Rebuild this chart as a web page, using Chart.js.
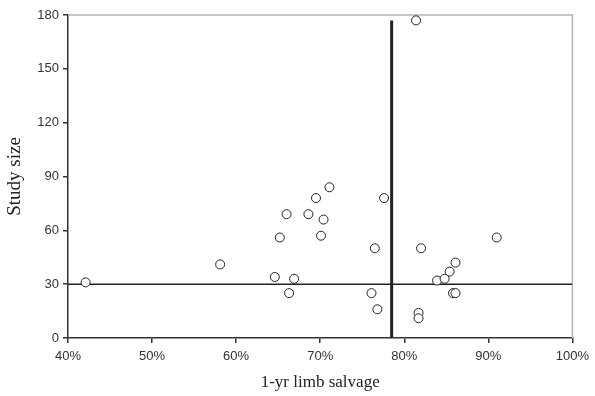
<!DOCTYPE html>
<html>
<head>
<meta charset="utf-8">
<script src="https://cdn.jsdelivr.net/npm/chart.js@4"></script>
<style>
    body { margin: 0; background: #fff; }
    #wrap { width: 595px; height: 396px; }
</style>
</head>
<body>
<div id="wrap"><canvas id="limbChart" width="595" height="396"></canvas></div>
<script>

/* ====================================
   DATA
==================================== */

// 1-yr limb salvage (%) per study
const salvage = [
    42.1, 58.1, 64.6, 65.2, 66.0, 66.3, 66.9, 68.6, 69.5,
    70.1, 70.4, 71.1, 76.1, 76.5, 76.8, 77.6, 81.4, 81.7,
    81.7, 82.0, 83.9, 84.8, 85.4, 86.1, 85.8, 86.1, 91.0
];

// study size for each point
const studySize = [
    31, 41, 34, 56, 69, 25, 33, 69, 78,
    57, 66, 84, 25, 50, 16, 78, 177, 14,
    11, 50, 32, 33, 37, 42, 25, 25, 56
];

// reference lines
const pooledSalvage = 78.5;
const pooledTop = 177;
const medianSize = 30;

const xTicks = [40, 50, 60, 70, 80, 90, 100];
const yTicks = [0, 30, 60, 90, 120, 150, 180];

/* ====================================
   PLOT FRAME (top / right in gray)
==================================== */

const frameLines = {

    id: "frameLines",

    beforeDatasetsDraw(chart) {

        const { ctx, chartArea: a } = chart;

        ctx.save();
        ctx.strokeStyle = "#b4b4b4";
        ctx.lineWidth = 1.5;
        ctx.beginPath();
        ctx.moveTo(a.left, a.top);
        ctx.lineTo(a.right, a.top);
        ctx.lineTo(a.right, a.bottom);
        ctx.stroke();
        ctx.restore();

    }

};

/* ====================================
   CHART
==================================== */

function createLimbChart() {

    const canvas =
        document.getElementById("limbChart");

    const points =
        salvage.map((x, i) => ({ x: x, y: studySize[i] }));

    new Chart(canvas, {

        type: "scatter",

        data: {

            datasets: [

                {
                    label: "Studies",
                    data: points,
                    pointRadius: 4.5,
                    pointBorderWidth: 1,
                    pointBorderColor: "#222",
                    pointBackgroundColor: "#fff",
                    order: 0
                },

                {
                    label: "Pooled salvage",
                    data: [
                        { x: pooledSalvage, y: 0 },
                        { x: pooledSalvage, y: pooledTop }
                    ],
                    showLine: true,
                    borderColor: "#222",
                    borderWidth: 3,
                    pointRadius: 0,
                    order: 1
                },

                {
                    label: "Median size",
                    data: [
                        { x: xTicks[0], y: medianSize },
                        { x: xTicks[xTicks.length - 1], y: medianSize }
                    ],
                    showLine: true,
                    borderColor: "#222",
                    borderWidth: 1.5,
                    pointRadius: 0,
                    order: 2
                }

            ]

        },

        options: {

            responsive: false,
            animation: false,

            layout: {
                padding: { left: 0, right: 22, top: 15, bottom: 0 }
            },

            plugins: {
                legend: { display: false },
                tooltip: { enabled: false }
            },

            scales: {

                x: {
                    type: "linear",
                    min: xTicks[0],
                    max: xTicks[xTicks.length - 1],
                    afterBuildTicks: s => {
                        s.ticks = xTicks.map(v => ({ value: v }));
                    },
                    afterFit: s => { s.height = 58; },
                    border: { display: true, color: "#333", width: 1.5 },
                    grid: {
                        drawOnChartArea: false,
                        drawTicks: true,
                        tickLength: 5,
                        color: "#333",
                        lineWidth: 1.5
                    },
                    ticks: {
                        padding: 6,
                        color: "#333",
                        font: { family: "'Liberation Sans', Arial", size: 13 },
                        callback: v => v + "%"
                    },
                    title: {
                        display: true,
                        text: "1-yr limb salvage",
                        color: "#222",
                        font: { family: "'Liberation Serif', 'Times New Roman'", size: 17 },
                        padding: { top: 0, bottom: 3 }
                    }
                },

                y: {
                    type: "linear",
                    min: yTicks[0],
                    max: yTicks[yTicks.length - 1],
                    afterBuildTicks: s => {
                        s.ticks = yTicks.map(v => ({ value: v }));
                    },
                    afterFit: s => { s.width = 68; },
                    border: { display: true, color: "#333", width: 1.5 },
                    grid: {
                        drawOnChartArea: false,
                        drawTicks: true,
                        tickLength: 5,
                        color: "#333",
                        lineWidth: 1.5
                    },
                    ticks: {
                        padding: 4,
                        color: "#333",
                        font: { family: "'Liberation Sans', Arial", size: 13 }
                    },
                    title: {
                        display: true,
                        text: "Study size",
                        color: "#222",
                        font: { family: "'Liberation Serif', 'Times New Roman'", size: 19 },
                        padding: { top: 4, bottom: 0 }
                    }
                }

            }

        },

        plugins: [frameLines]

    });

}

createLimbChart();

</script>
</body>
</html>
